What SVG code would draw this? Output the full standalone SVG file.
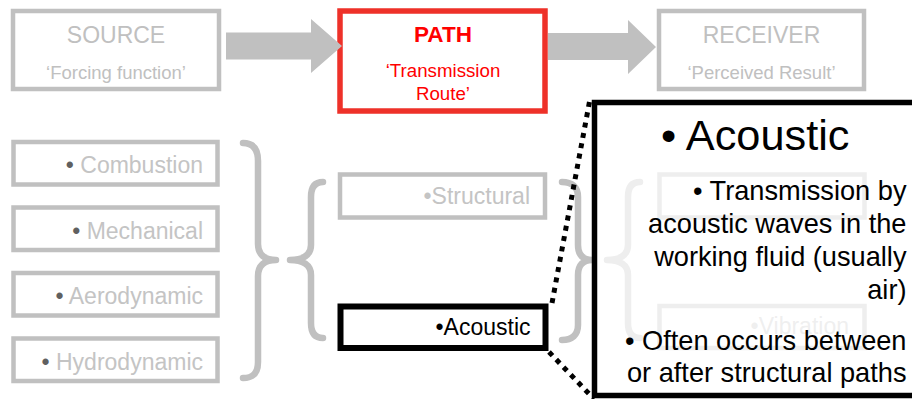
<svg xmlns="http://www.w3.org/2000/svg" width="912" height="399" viewBox="0 0 912 399">
  <style>
    text { font-family: "Liberation Sans", Arial, sans-serif; }
    .gbox { fill: #ffffff; stroke: #c0c0c0; stroke-width: 4.5; }
    .head { font-size: 23px; fill: #c0c0c0; text-anchor: middle; }
    .sub { font-size: 18.5px; fill: #c0c0c0; text-anchor: middle; }
    .item { font-size: 23px; fill: #c4c4c4; text-anchor: end; }
    .dot { fill: #606060; }
    .brace { fill: none; stroke: #c0c0c0; stroke-width: 6.5; stroke-linecap: round; stroke-linejoin: round; }
    .arrow { fill: #c0c0c0; }
    .dots { fill: none; stroke: #000000; stroke-width: 5; stroke-dasharray: 5 5.5; }
    .call { font-size: 27.2px; fill: #000000; text-anchor: end; }
  </style>

  <!-- top row -->
  <g id="source">
    <rect class="gbox" x="13" y="11" width="206" height="78"/>
    <text class="head" x="116" y="42.5">SOURCE</text>
    <text class="sub" x="116" y="79">‘Forcing function’</text>
  </g>
  <g id="path">
    <rect x="340" y="11" width="205" height="100" fill="#ffffff" stroke="#ee3129" stroke-width="5.5"/>
    <text x="443" y="42" font-size="22.5" font-weight="bold" fill="#ff0000" text-anchor="middle">PATH</text>
    <text x="443" y="77" font-size="18.7" fill="#ff0000" text-anchor="middle">‘Transmission</text>
    <text x="443" y="99.5" font-size="18.7" fill="#ff0000" text-anchor="middle">Route’</text>
  </g>
  <g id="receiver">
    <rect class="gbox" x="659" y="11" width="205" height="78"/>
    <text class="head" x="761.5" y="42.5">RECEIVER</text>
    <text class="sub" x="761.5" y="79">‘Perceived Result’</text>
  </g>

  <!-- source categories -->
  <g id="combustion">
    <rect class="gbox" x="13.5" y="142" width="204" height="42.5" stroke-width="5"/>
    <text class="item" x="203" y="173"><tspan class="dot">•</tspan> Combustion</text>
  </g>
  <g id="mechanical">
    <rect class="gbox" x="13.5" y="207.5" width="204" height="42.5" stroke-width="5"/>
    <text class="item" x="203" y="238.5"><tspan class="dot">•</tspan> Mechanical</text>
  </g>
  <g id="aerodynamic">
    <rect class="gbox" x="13.5" y="273" width="204" height="42.5" stroke-width="5"/>
    <text class="item" x="203" y="304"><tspan class="dot">•</tspan> Aerodynamic</text>
  </g>
  <g id="hydrodynamic">
    <rect class="gbox" x="13.5" y="338.5" width="204" height="42.5" stroke-width="5"/>
    <text class="item" x="203" y="369.5"><tspan class="dot">•</tspan> Hydrodynamic</text>
  </g>

  <!-- path categories -->
  <g id="structural">
    <rect class="gbox" x="340" y="174.5" width="205" height="43" stroke-width="5.5"/>
    <text class="item" x="530" y="204">•Structural</text>
  </g>
  <g id="acoustic">
    <rect x="340.5" y="306.5" width="205" height="41.5" fill="#ffffff" stroke="#000000" stroke-width="6"/>
    <text x="530.5" y="335" font-size="23" fill="#000000" text-anchor="end">•Acoustic</text>
  </g>

  <!-- receiver categories -->
  <g id="noise">
    <rect class="gbox" x="659.5" y="174.5" width="205" height="43" stroke-width="5.5"/>
  </g>
  <g id="vibration">
    <rect class="gbox" x="659.5" y="306" width="205" height="42" stroke-width="5.5"/>
    <text class="item" x="849" y="334">•Vibration</text>
  </g>

  <!-- connectors: block arrows, grouping braces, callout leaders -->
  <g id="connectors">
    <path class="arrow" d="M226,32.5 H311 V19 L342,46 L311,73 V59.5 H226 Z"/>
    <path class="arrow" d="M548,33 H628 V20 L656,47 L628,74 V60 H548 Z"/>
    <path class="brace" d="M243,143 C253,143 258,149 258,161 L258,244 C258,254 264,260 276,260 C264,260 258,266 258,276 L258,362 C258,373 253,378 243,378"/>
    <path class="brace" d="M323,182 C315,182 311,187 311,197 L311,245 C311,255 303,260 290,260 C303,260 311,265 311,275 L311,323 C311,333 315,338 323,338"/>
    <path class="brace" d="M562,182 C572,182 578,187 578,197 L578,245 C578,255 583,260 592,260 C583,260 578,265 578,275 L578,325 C578,335 572,340 562,340"/>
    <path class="brace" d="M640,182 C632,182 628,187 628,197 L628,245 C628,255 620,260 607,260 C620,260 628,265 628,275 L628,323 C628,333 632,338 640,338"/>
    <path class="dots" d="M552,303 L590,99"/>
    <path class="dots" d="M549,352 L594,399"/>
  </g>

  <!-- enlarged callout -->
  <g id="callout">
    <rect x="594.5" y="102.5" width="330" height="293" fill="#ffffff" fill-opacity="0.72" stroke="#000000" stroke-width="5.5"/>
    <text x="661" y="150" font-size="43.3" fill="#000000">• Acoustic</text>
    <text class="call" x="906.5" y="200">• Transmission by</text>
    <text class="call" x="906.5" y="233">acoustic waves in the</text>
    <text class="call" x="906.5" y="266">working fluid (usually</text>
    <text class="call" x="906.5" y="298.5">air)</text>
    <text class="call" x="906.5" y="350">• Often occurs between</text>
    <text class="call" x="906.5" y="382">or after structural paths</text>
  </g>
</svg>
